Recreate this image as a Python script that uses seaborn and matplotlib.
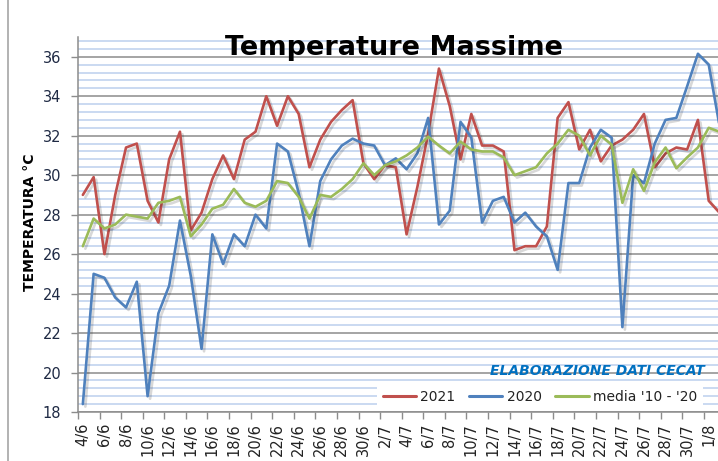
import numpy as np
import pandas as pd
import matplotlib
matplotlib.use("Agg")
import matplotlib.pyplot as plt
import matplotlib.patheffects as pe
from matplotlib.ticker import MultipleLocator, FixedLocator
from matplotlib.lines import Line2D
import seaborn as sns

dates = ["4/6", "5/6", "6/6", "7/6", "8/6", "9/6", "10/6", "11/6", "12/6", "13/6",
         "14/6", "15/6", "16/6", "17/6", "18/6", "19/6", "20/6", "21/6", "22/6", "23/6",
         "24/6", "25/6", "26/6", "27/6", "28/6", "29/6", "30/6", "1/7", "2/7", "3/7",
         "4/7", "5/7", "6/7", "7/7", "8/7", "9/7", "10/7", "11/7", "12/7", "13/7",
         "14/7", "15/7", "16/7", "17/7", "18/7", "19/7", "20/7", "21/7", "22/7", "23/7",
         "24/7", "25/7", "26/7", "27/7", "28/7", "29/7", "30/7", "31/7", "1/8", "2/8"]

t2021 = [29.0, 29.9, 26.0, 29.0, 31.4, 31.6, 28.7, 27.6, 30.8, 32.2,
         27.2, 28.1, 29.8, 31.0, 29.8, 31.8, 32.2, 34.0, 32.5, 34.0,
         33.1, 30.4, 31.8, 32.7, 33.3, 33.8, 30.6, 29.8, 30.5, 30.4,
         27.0, 29.4, 32.1, 35.4, 33.5, 30.8, 33.1, 31.5, 31.5, 31.2,
         26.2, 26.4, 26.4, 27.4, 32.9, 33.7, 31.3, 32.3, 30.7, 31.5,
         31.8, 32.3, 33.1, 30.4, 31.1, 31.4, 31.3, 32.8, 28.7, 28.1]

t2020 = [18.4, 25.0, 24.8, 23.8, 23.3, 24.6, 18.8, 23.0, 24.4, 27.7,
         24.9, 21.2, 27.0, 25.5, 27.0, 26.4, 28.0, 27.3, 31.6, 31.2,
         29.1, 26.4, 29.7, 30.8, 31.5, 31.85, 31.6, 31.5, 30.5, 30.85,
         30.3, 31.1, 32.9, 27.5, 28.2, 32.7, 31.9, 27.6, 28.7, 28.9,
         27.6, 28.1, 27.4, 26.9, 25.2, 29.6, 29.6, 31.4, 32.3, 31.9,
         22.3, 30.0, 29.6, 31.6, 32.8, 32.9, 34.5, 36.15, 35.6, 32.5]

media = [26.4, 27.8, 27.3, 27.5, 28.0, 27.9, 27.8, 28.6, 28.7, 28.9,
         26.9, 27.5, 28.3, 28.5, 29.3, 28.6, 28.4, 28.7, 29.7, 29.6,
         28.9, 27.8, 29.0, 28.9, 29.3, 29.8, 30.6, 30.0, 30.5, 30.7,
         31.0, 31.4, 31.95, 31.5, 31.1, 31.7, 31.3, 31.2, 31.2, 30.9,
         30.0, 30.2, 30.4, 31.1, 31.6, 32.3, 32.0, 31.0, 32.0, 31.55,
         28.6, 30.3, 29.2, 30.65, 31.4, 30.35, 30.9, 31.4, 32.4, 32.2]

series_names = ["2021", "2020", "media '10 - '20"]
colors = ["#C0504D", "#4F81BD", "#9BBB59"]

pos = np.arange(len(dates))
df = pd.concat([
    pd.DataFrame({"x": pos, "temp": vals, "serie": name})
    for name, vals in zip(series_names, [t2021, t2020, media])
], ignore_index=True)

sns.set_theme(style="white")
plt.rcParams["font.family"] = ["DejaVu Sans"]

fig = plt.figure(figsize=(7.18, 4.61), dpi=100)
ax = fig.add_axes([78 / 718, 1 - 412 / 461, (718 - 78) / 718, (412 - 37) / 461])

sns.lineplot(data=df, x="x", y="temp", hue="serie", hue_order=series_names,
             palette=colors, linewidth=1.9, sort=False, legend=False, ax=ax,
             zorder=3)

for line in ax.lines:
    line.set_path_effects([pe.SimpleLineShadow(offset=(1.8, -1.8), shadow_color="k", alpha=0.17),
                           pe.Normal()])
    line.set_clip_on(True)

ax.set_xlim(-0.4, 58.86)
ax.set_ylim(18, 37)

# y ticks & grid
ax.yaxis.set_major_locator(FixedLocator(np.arange(18, 37, 2)))
ax.yaxis.set_minor_locator(MultipleLocator(0.4))
ax.grid(axis="y", which="major", color="#8c8c8c", linewidth=1.1, zorder=1)
ax.grid(axis="y", which="minor", color="#c6d7f0", linewidth=1.3, zorder=0)
ax.grid(axis="x", which="both", visible=False)
ax.tick_params(axis="y", which="major", left=True, length=5, width=1, color="#8c8c8c",
               pad=7, labelsize=10.5, labelcolor="#1f2a44")
ax.tick_params(axis="y", which="minor", left=False, length=0)

# x ticks: marks at category boundaries, labels under points
ax.set_xticks(np.arange(-0.45, 59, 2))
ax.set_xticklabels([])
ax.set_xticks(pos[::2], minor=True)
ax.set_xticklabels(dates[::2], minor=True, rotation=90)
ax.tick_params(axis="x", which="major", bottom=True, length=5, width=1, color="#8c8c8c")
ax.tick_params(axis="x", which="minor", bottom=False, length=0, pad=8,
               labelsize=10.5, labelcolor="#222222")
for lbl in ax.get_xticklabels(minor=True):
    lbl.set_verticalalignment("top")

ax.set_xlabel("")
ax.set_ylabel("")
for side in ["top", "right"]:
    ax.spines[side].set_visible(False)
for side in ["left", "bottom"]:
    ax.spines[side].set_color("#8c8c8c")
    ax.spines[side].set_linewidth(1.1)

# texts
fig.text(394 / 718, 1 - 48 / 461, "Temperature Massime", ha="center", va="center",
         fontsize=19.5, fontweight="bold", color="black", zorder=5)
fig.text(30 / 718, 1 - 222 / 461, "TEMPERATURA °C", rotation=90, ha="center", va="center",
         fontsize=10, fontweight="bold", color="black")
fig.text(597 / 718, 1 - 371 / 461, "ELABORAZIONE DATI CECAT", ha="center", va="center",
         fontsize=10, fontweight="bold", fontstyle="italic", color="#0070C0")

# legend
handles = [Line2D([0], [0], color=c, lw=2.2) for c in colors]
leg = fig.legend(handles, series_names, loc="center left",
                 bbox_to_anchor=(377 / 718, 1 - 397 / 461), ncol=3, frameon=True,
                 fancybox=False, framealpha=1, facecolor="white", edgecolor="none",
                 fontsize=10, handlelength=2.4, handletextpad=0.3, columnspacing=1.0,
                 borderpad=0.4, borderaxespad=0)
for t in leg.get_texts():
    t.set_color("#222222")

# chart border line on the left
fig.add_artist(Line2D([8 / 718, 8 / 718], [0, 1], transform=fig.transFigure,
                      color="#a6a6a6", lw=1.2))

fig.savefig("out.png", dpi=100)
